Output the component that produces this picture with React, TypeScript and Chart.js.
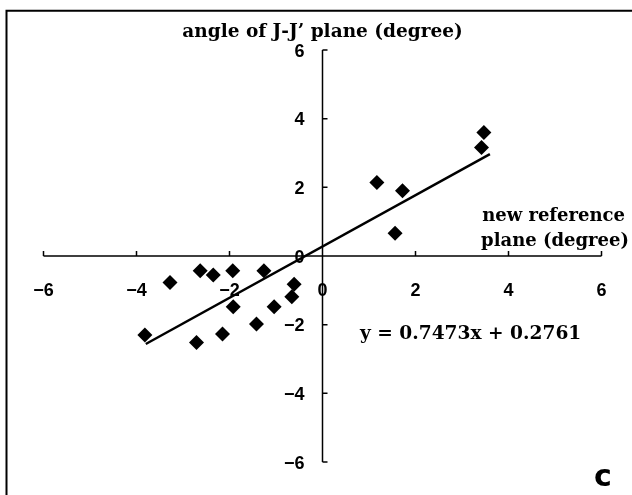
import React, { useEffect, useRef } from "react";
import { Chart, registerables } from "chart.js";

Chart.register(...registerables);

// Data
const xValues = [-3.82, -3.28, -2.63, -2.35, -1.93, -1.26, -0.61, -0.66, -1.92, -1.04, -1.42, -2.15, -2.71, 1.17, 1.72, 1.56, 3.42, 3.47];
const yValues = [-2.3, -0.77, -0.43, -0.55, -0.43, -0.43, -0.82, -1.19, -1.48, -1.48, -1.98, -2.27, -2.52, 2.14, 1.9, 0.66, 3.16, 3.6];
const trendSlope = 0.7473;
const trendIntercept = 0.2761;
const trendXRange = [-3.8, 3.6];
const tickValues = [-6, -4, -2, 0, 2, 4, 6];
const tickLabels = ["\u22126", "\u22124", "\u22122", "0", "2", "4", "6"];
const yTitle = "angle of J-J\u2019 plane (degree)";
const xTitleLines = ["new reference", "plane (degree)"];
const equationText = "y = 0.7473x + 0.2761";
const panelLetter = "c";

const W = 632;
const H = 495;

const crossAxesPlugin = {
  id: "crossAxes",
  beforeDatasetsDraw(chart: any) {
    const ctx: CanvasRenderingContext2D = chart.ctx;
    const xs = chart.scales.x;
    const ys = chart.scales.y;
    ctx.save();
    ctx.strokeStyle = "#000";
    ctx.fillStyle = "#000";
    // frame (top + left)
    ctx.lineWidth = 2;
    ctx.beginPath();
    ctx.moveTo(6.5, H);
    ctx.lineTo(6.5, 10.8);
    ctx.lineTo(W, 10.8);
    ctx.stroke();

    const x0 = xs.getPixelForValue(0);
    const y0 = ys.getPixelForValue(0);
    const xMinP = xs.getPixelForValue(tickValues[0]);
    const xMaxP = xs.getPixelForValue(tickValues[tickValues.length - 1]);
    const yMinP = ys.getPixelForValue(tickValues[0]);
    const yMaxP = ys.getPixelForValue(tickValues[tickValues.length - 1]);

    ctx.lineWidth = 1.5;
    ctx.beginPath();
    ctx.moveTo(xMinP, y0);
    ctx.lineTo(xMaxP, y0);
    ctx.moveTo(x0, yMinP);
    ctx.lineTo(x0, yMaxP);
    tickValues.forEach((v) => {
      const px = xs.getPixelForValue(v);
      ctx.moveTo(px, y0);
      ctx.lineTo(px, y0 - 5);
      const py = ys.getPixelForValue(v);
      ctx.moveTo(x0, py);
      ctx.lineTo(x0 + 5, py);
    });
    ctx.stroke();

    ctx.font = "bold 18px 'Liberation Sans', Arial, sans-serif";
    ctx.textBaseline = "alphabetic";
    tickValues.forEach((v, i) => {
      const px = xs.getPixelForValue(v);
      ctx.textAlign = "center";
      ctx.fillText(tickLabels[i], px, y0 + 39.5);
      const py = ys.getPixelForValue(v);
      ctx.textAlign = "right";
      ctx.fillText(tickLabels[i], x0 - 18, py + 6.5);
    });
    ctx.restore();
  },
  afterDraw(chart: any) {
    const ctx: CanvasRenderingContext2D = chart.ctx;
    const xs = chart.scales.x;
    ctx.save();
    ctx.fillStyle = "#000";
    ctx.textBaseline = "alphabetic";
    ctx.font = "bold 18.5px 'DejaVu Serif', serif";
    ctx.textAlign = "center";
    ctx.fillText(yTitle, xs.getPixelForValue(0), 37);
    ctx.font = "bold 18px 'DejaVu Serif', serif";
    ctx.textAlign = "right";
    ctx.fillText(xTitleLines[0], 625, 221);
    ctx.fillText(xTitleLines[1], 629, 246);
    ctx.font = "bold 18.6px 'DejaVu Serif', serif";
    ctx.textAlign = "left";
    ctx.fillText(equationText, 360, 339);
    ctx.font = "bold 30px 'DejaVu Sans', sans-serif";
    ctx.textAlign = "center";
    ctx.fillText(panelLetter, 603, 486);
    ctx.restore();
  },
};

export default function App() {
  const canvasRef = useRef<HTMLCanvasElement | null>(null);

  useEffect(() => {
    if (!canvasRef.current) return;
    const points = xValues.map((x, i) => ({ x, y: yValues[i] }));
    const trend = trendXRange.map((x) => ({ x, y: trendSlope * x + trendIntercept }));
    const chart = new Chart(canvasRef.current, {
      type: "scatter",
      data: {
        datasets: [
          {
            label: "data",
            data: points,
            pointStyle: "rectRot",
            pointRadius: 7.5,
            pointHoverRadius: 7.5,
            backgroundColor: "#000",
            borderColor: "#000",
            borderWidth: 0,
            order: 0,
          },
          {
            label: "trend",
            type: "line",
            data: trend,
            borderColor: "#000",
            borderWidth: 2.5,
            pointRadius: 0,
            fill: false,
            order: 1,
          } as any,
        ],
      },
      options: {
        animation: false,
        responsive: true,
        maintainAspectRatio: false,
        layout: { padding: { left: 43.5, right: 30.5, top: 50, bottom: 33 } },
        plugins: { legend: { display: false }, tooltip: { enabled: false } },
        scales: {
          x: { type: "linear", min: -6, max: 6, display: false },
          y: { type: "linear", min: -6, max: 6, display: false },
        },
      },
      plugins: [crossAxesPlugin],
    });
    return () => chart.destroy();
  }, []);

  return (
    <div style={{ position: "fixed", left: 0, top: 0, width: W, height: H, background: "#fff" }}>
      <canvas ref={canvasRef} />
    </div>
  );
}
